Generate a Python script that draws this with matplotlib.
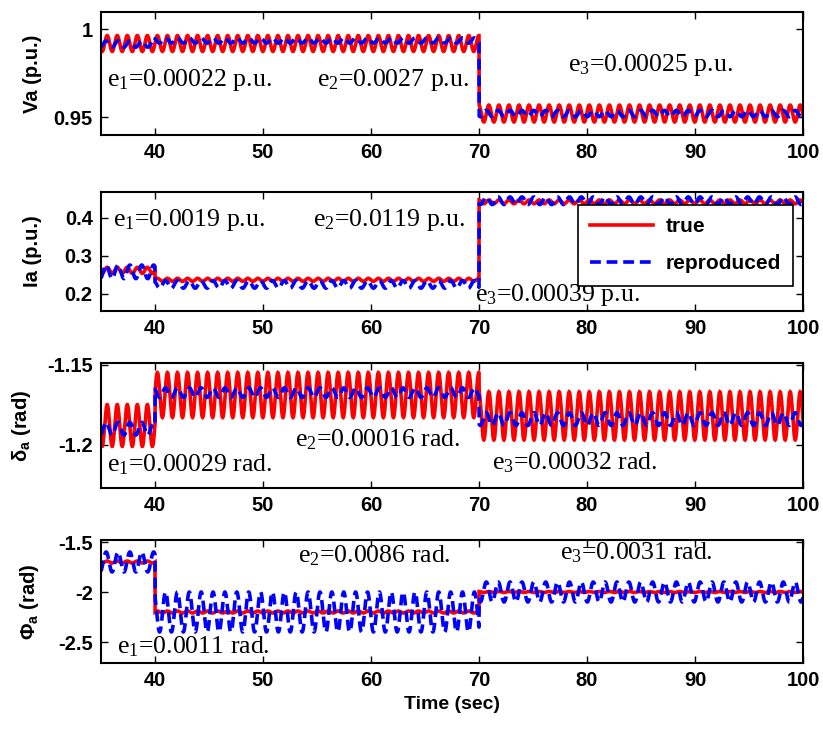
import numpy as np
import matplotlib
matplotlib.use("Agg")
import matplotlib.pyplot as plt

plt.rcParams['axes.unicode_minus'] = False
plt.rcParams['mathtext.fontset'] = 'custom'
plt.rcParams['mathtext.rm'] = 'Liberation Serif'
plt.rcParams['mathtext.it'] = 'Liberation Serif:italic'
plt.rcParams['mathtext.bf'] = 'Liberation Sans:bold'

# ---- data (segment boundaries, levels and oscillation amplitudes) ----
seg_edges = [35, 40, 70, 100]

va_true_level = [0.9918, 0.9918, 0.9520]
va_true_amp = [0.0045, 0.0045, 0.0048]
va_rep_level = [0.9915, 0.9935, 0.9520]
va_rep_amp = [0.0018, 0.0015, 0.0018]

ia_true_level = [0.262, 0.237, 0.442]
ia_true_amp = [0.008, 0.004, 0.005]
ia_rep_level = [0.258, 0.225, 0.445]
ia_rep_amp = [0.018, 0.010, 0.010]

da_true_level = [-1.188, -1.169, -1.182]
da_true_amp = [0.013, 0.014, 0.015]
da_rep_level = [-1.190, -1.1675, -1.184]
da_rep_amp = [0.004, 0.003, 0.004]

pa_true_level = [-1.70, -2.20, -2.00]
pa_true_amp = [0.01, 0.01, 0.005]
pa_rep_level = [-1.70, -2.20, -2.00]
pa_rep_amp = [0.10, 0.20, 0.10]

true_period = 0.93   # s
rep_period = 1.10    # s

y_labels = ["Va (p.u.)", "Ia (p.u.)", r"$\mathbf{\delta_a}$ (rad)", r"$\mathbf{\Phi_a}$ (rad)"]
y_ticks = [[0.95, 1.0], [0.2, 0.3, 0.4], [-1.2, -1.15], [-2.5, -2.0, -1.5]]
y_ticklabels = [["0.95", "1"], ["0.2", "0.3", "0.4"], ["-1.2", "-1.15"], ["-2.5", "-2", "-1.5"]]
y_limits = [(0.9398, 1.0097), (0.155, 0.468), (-1.227, -1.149), (-2.71, -1.48)]
x_ticks = [40, 50, 60, 70, 80, 90, 100]

annotations = [
    [(35.6, 0.971, r"e$_1$=0.00022 p.u."), (55.0, 0.971, r"e$_2$=0.0027 p.u."), (78.2, 0.9795, r"e$_3$=0.00025 p.u.")],
    [(36.1, 0.395, r"e$_1$=0.0019 p.u."), (54.6, 0.395, r"e$_2$=0.0119 p.u."), (69.6, 0.197, r"e$_3$=0.00039 p.u.")],
    [(35.6, -1.2125, r"e$_1$=0.00029 rad."), (53.0, -1.197, r"e$_2$=0.00016 rad."), (71.2, -1.211, r"e$_3$=0.00032 rad.")],
    [(36.5, -2.545, r"e$_1$=0.0011 rad."), (53.2, -1.64, r"e$_2$=0.0086 rad."), (77.5, -1.61, r"e$_3$=0.0031 rad.")],
]

t = np.arange(35, 100.001, 0.01)


def build(levels, amps, period):
    y = np.zeros_like(t)
    for i in range(3):
        m = (t >= seg_edges[i]) & (t < seg_edges[i + 1] + (1e-9 if i == 2 else 0))
        y[m] = levels[i] + amps[i] * np.sin(2 * np.pi * t[m] / period)
    return y


series = [
    (build(va_true_level, va_true_amp, true_period), build(va_rep_level, va_rep_amp, rep_period)),
    (build(ia_true_level, ia_true_amp, true_period), build(ia_rep_level, ia_rep_amp, rep_period)),
    (build(da_true_level, da_true_amp, true_period), build(da_rep_level, da_rep_amp, rep_period)),
    (build(pa_true_level, pa_true_amp, true_period), build(pa_rep_level, pa_rep_amp, rep_period)),
]

fig = plt.figure(figsize=(8.23, 7.29), dpi=100)
left, width = 101 / 823, 702 / 823
rects = [(12, 135), (192, 311), (363, 488), (540, 663)]
label_x = [-0.084, -0.084, -0.097, -0.086]

for k, (top, bot) in enumerate(rects):
    ax = fig.add_axes([left, 1 - bot / 729, width, (bot - top) / 729])
    yt, yr = series[k]
    ax.plot(t, yt, color='#ff0000', lw=2.6, label='true', solid_joinstyle='miter')
    ax.plot(t, yr, color='#0000ff', lw=2.6, ls=(0, (3, 1.6)), label='reproduced')
    ax.set_xlim(35, 100)
    ax.set_ylim(*y_limits[k])
    ax.set_xticks(x_ticks)
    ax.set_xticklabels([str(v) for v in x_ticks])
    ax.set_yticks(y_ticks[k])
    ax.set_yticklabels(y_ticklabels[k])
    ax.tick_params(direction='in', length=5, width=1, top=True, right=True,
                   labelsize=14.5, pad=6)
    for lab in ax.get_xticklabels() + ax.get_yticklabels():
        lab.set_fontweight('bold')
        lab.set_family('Liberation Sans')
    for s in ax.spines.values():
        s.set_linewidth(1.5)
    ax.set_ylabel(y_labels[k], fontsize=14.5, fontweight='bold', family='Liberation Sans')
    ax.yaxis.set_label_coords(label_x[k], 0.5)
    for (x, y, s) in annotations[k]:
        ax.text(x, y, s, fontsize=18.5, family='Liberation Serif', ha='left', va='center')
    if k == 1:
        leg = ax.legend(loc='upper right', bbox_to_anchor=(0.986, 0.891), borderaxespad=0,
                        fancybox=False, framealpha=1, edgecolor='black', handlelength=3.0,
                        prop={'family': 'Liberation Sans', 'weight': 'bold', 'size': 15},
                        labelspacing=0.85, borderpad=0.6, handletextpad=0.6)
        leg.get_frame().set_linewidth(1.2)
    if k == 3:
        ax.set_xlabel("Time (sec)", fontsize=14, fontweight='bold', family='Liberation Sans', labelpad=4)

fig.savefig("out.png", dpi=100)
